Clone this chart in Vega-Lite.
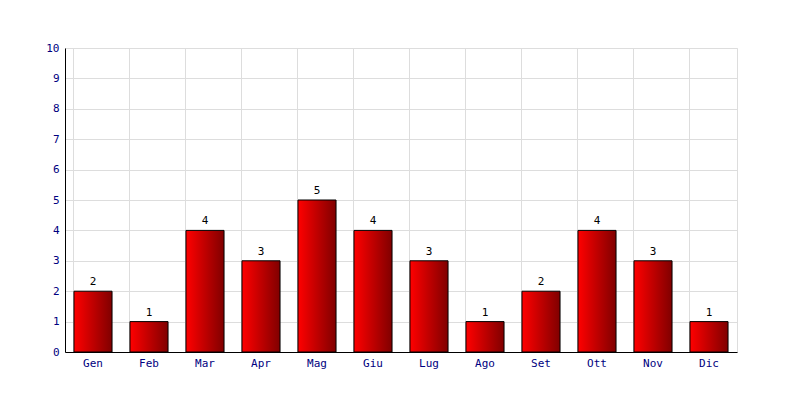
{
  "$schema": "https://vega.github.io/schema/vega-lite/v6.json",
  "width": 672,
  "height": 304,
  "autosize": {"type": "none"},
  "padding": {"left": 65, "top": 48, "right": 63, "bottom": 48},
  "background": "white",
  "config": {
    "view": {"stroke": "#dddddd"},
    "font": "DejaVu Sans Mono",
    "axis": {
      "gridColor": "#dddddd",
      "gridWidth": 1,
      "domainColor": "#000000",
      "domainWidth": 1,
      "ticks": false,
      "labelFont": "DejaVu Sans Mono",
      "labelFontSize": 11,
      "labelColor": "#000080",
      "title": null
    }
  },
  "data": {
    "values": [
      {"mese": "Gen", "valore": 2},
      {"mese": "Feb", "valore": 1},
      {"mese": "Mar", "valore": 4},
      {"mese": "Apr", "valore": 3},
      {"mese": "Mag", "valore": 5},
      {"mese": "Giu", "valore": 4},
      {"mese": "Lug", "valore": 3},
      {"mese": "Ago", "valore": 1},
      {"mese": "Set", "valore": 2},
      {"mese": "Ott", "valore": 4},
      {"mese": "Nov", "valore": 3},
      {"mese": "Dic", "valore": 1}
    ]
  },
  "encoding": {
    "x": {
      "field": "mese",
      "type": "nominal",
      "sort": null,
      "scale": {"paddingInner": 0.32, "paddingOuter": 0.16},
      "axis": {"labelAngle": 0, "grid": true, "bandPosition": 0, "labelPadding": 5}
    },
    "y": {
      "field": "valore",
      "type": "quantitative",
      "scale": {"domain": [0, 10], "nice": false},
      "axis": {"values": [0,1,2,3,4,5,6,7,8,9,10], "labelPadding": 6, "grid": true}
    }
  },
  "layer": [
    {
      "mark": {
        "type": "bar",
        "stroke": "#000000",
        "strokeWidth": 1,
        "color": {
          "gradient": "linear",
          "x1": 0, "x2": 1, "y1": 0, "y2": 0,
          "stops": [
            {"offset": 0, "color": "#ff0000"},
            {"offset": 1, "color": "#800000"}
          ]
        }
      }
    },
    {
      "mark": {"type": "text", "dy": -9, "font": "DejaVu Sans Mono", "fontSize": 11, "color": "#000000"},
      "encoding": {"text": {"field": "valore", "type": "quantitative"}}
    }
  ]
}
